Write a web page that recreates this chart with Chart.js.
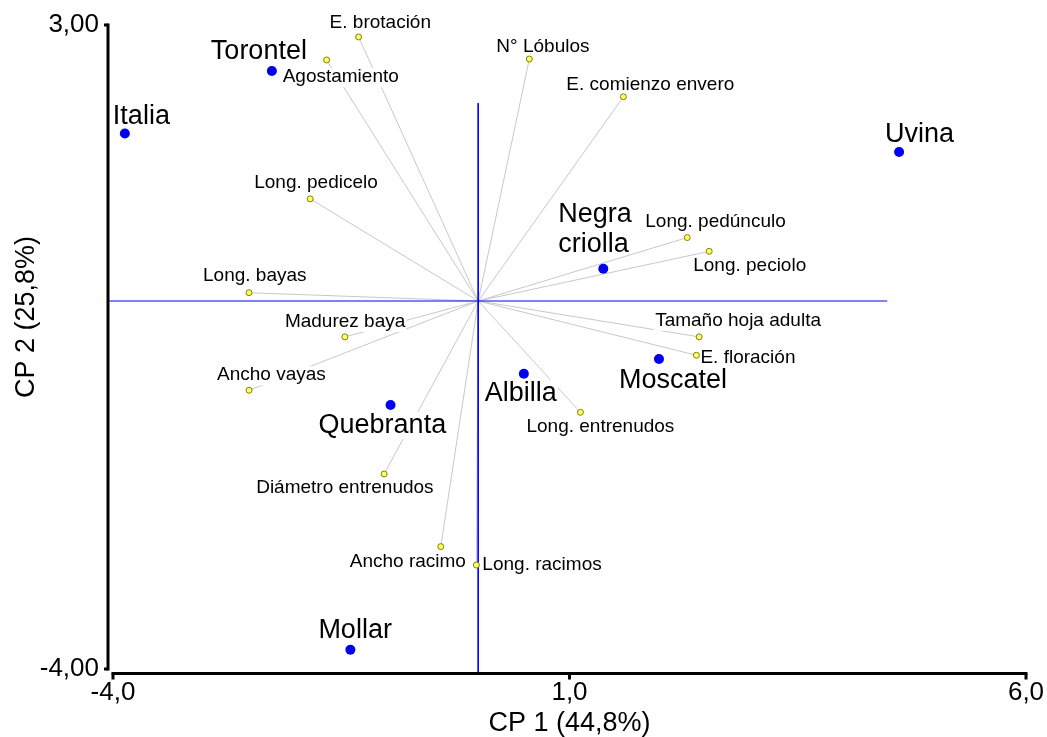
<!DOCTYPE html>
<html>
<head>
<meta charset="utf-8">
<script src="https://cdn.jsdelivr.net/npm/chart.js@4/dist/chart.umd.min.js"></script>
<style>
  html, body { margin: 0; padding: 0; background: #fff; }
  canvas { display: block; }
</style>
</head>
<body>
<canvas id="pca" width="1047" height="737"></canvas>
<script>
// cultivares (puntajes CP1 / CP2)
var varietyNames = ['Italia', 'Torontel', 'Uvina', ['Negra', 'criolla'], 'Moscatel', 'Albilla', 'Quebranta', 'Mollar'];
var varietyCP1 = [-3.87, -2.26, 4.61, 1.37, 1.98, 0.50, -0.96, -1.40];
var varietyCP2 = [1.82, 2.50, 1.62, 0.35, -0.63, -0.79, -1.13, -3.79];

// variables (vectores)
var variableNames = ['E. brotación', 'Agostamiento', 'N° Lóbulos', 'E. comienzo envero', 'Long. pedicelo',
  'Long. pedúnculo', 'Long. peciolo', 'Long. bayas', 'Madurez baya', 'Ancho vayas', 'Tamaño hoja adulta',
  'E. floración', 'Long. entrenudos', 'Diámetro entrenudos', 'Ancho racimo', 'Long. racimos'];
var variableCP1 = [-1.31, -1.66, 0.56, 1.59, -1.84, 2.29, 2.53, -2.51, -1.46, -2.51, 2.42, 2.39, 1.12, -1.03, -0.41, -0.02];
var variableCP2 = [2.87, 2.62, 2.63, 2.22, 1.11, 0.69, 0.54, 0.09, -0.39, -0.97, -0.39, -0.59, -1.21, -1.88, -2.67, -2.87];

// ejes de referencia en el origen
var refH = [-4.05, 4.48];   // extension de la linea y = 0
var refV = [2.15, -4.04];   // extension de la linea x = 0

var xTicks = [-4, 1, 6];
var yTicks = [-4, 3];

// label placement (px offset of text start / baseline from the point)
var varietyLabelPos = [[-12, -10], [-61, -12], [-14, -10], [-45, -47], [-40, 29], [-39, 27], [-72, 28], [-32, -12]];
var variableLabelPos = [[-29, -9], [-44, 22], [-33, -7], [-57, -7], [-56, -11], [-42, -11], [-16, 20], [-46, -12],
  [-60, -10], [-32, -10], [-44, -11], [4, 8], [-54, 20], [-128, 19], [-91, 20], [6, 5]];

var FONT = "'Liberation Sans', Arial, sans-serif";

function pts(xs, ys) {
  return xs.map(function (x, i) { return {x: x, y: ys[i]}; });
}

var datasets = [];
variableCP1.forEach(function (x, i) {
  datasets.push({
    type: 'line',
    data: [{x: 0, y: 0}, {x: x, y: variableCP2[i]}],
    borderColor: '#c8c8c8',
    borderWidth: 1,
    pointRadius: 0,
    order: 4
  });
});
datasets.push({
  type: 'line', data: [{x: refH[0], y: 0}, {x: refH[1], y: 0}],
  borderColor: '#0000ff', borderWidth: 1, pointRadius: 0, clip: false, order: 3
});
datasets.push({
  type: 'line', data: [{x: 0, y: refV[0]}, {x: 0, y: refV[1]}],
  borderColor: '#0000ff', borderWidth: 1, pointRadius: 0, clip: false, order: 3
});
datasets.push({
  id: 'vars',
  data: pts(variableCP1, variableCP2),
  backgroundColor: '#ffff66',
  borderColor: '#808000',
  borderWidth: 1,
  pointRadius: 3,
  order: 2
});
datasets.push({
  id: 'cult',
  data: pts(varietyCP1, varietyCP2),
  backgroundColor: '#0000ee',
  borderColor: '#0000ee',
  borderWidth: 0,
  pointRadius: 5,
  order: 1
});

function drawLabel(ctx, text, x, y) {
  var m = ctx.measureText(text);
  ctx.fillStyle = '#fff';
  ctx.fillRect(x - 1, y - m.actualBoundingBoxAscent - 1, m.width + 2, m.actualBoundingBoxAscent + m.actualBoundingBoxDescent + 2);
  ctx.fillStyle = '#000';
  ctx.fillText(text, x, y);
}

function noPad(s) {
  s.paddingLeft = 0; s.paddingRight = 0; s.paddingTop = 0; s.paddingBottom = 0;
}

var pcaPlugin = {
  id: 'pcaExtras',
  beforeDatasetDraw: function (chart, args) {
    if (chart.data.datasets[args.index].id !== 'vars') return;
    var ctx = chart.ctx, xs = chart.scales.x, ys = chart.scales.y;
    ctx.save();
    ctx.textAlign = 'left';
    ctx.textBaseline = 'alphabetic';
    ctx.font = '19px ' + FONT;
    variableNames.forEach(function (name, i) {
      var px = xs.getPixelForValue(variableCP1[i]), py = ys.getPixelForValue(variableCP2[i]);
      drawLabel(ctx, name, px + variableLabelPos[i][0], py + variableLabelPos[i][1]);
    });
    ctx.font = '27px ' + FONT;
    varietyNames.forEach(function (name, i) {
      var px = xs.getPixelForValue(varietyCP1[i]), py = ys.getPixelForValue(varietyCP2[i]);
      var lines = Array.isArray(name) ? name : [name];
      lines.forEach(function (t, k) {
        drawLabel(ctx, t, px + varietyLabelPos[i][0], py + varietyLabelPos[i][1] + k * 30);
      });
    });
    ctx.restore();
  },
  afterDraw: function (chart) {
    var ctx = chart.ctx, xs = chart.scales.x, ys = chart.scales.y, area = chart.chartArea;
    ctx.save();
    ctx.strokeStyle = '#000';
    ctx.lineWidth = 3;
    ctx.lineCap = 'butt';
    // eje vertical
    var ax = area.left - 5;
    var yTop = ys.getPixelForValue(yTicks[yTicks.length - 1]);
    var yBot = ys.getPixelForValue(yTicks[0]);
    ctx.beginPath();
    ctx.moveTo(ax, yTop - 1.5);
    ctx.lineTo(ax, yBot + 1.5);
    ctx.stroke();
    yTicks.forEach(function (v) {
      var y = ys.getPixelForValue(v);
      ctx.beginPath();
      ctx.moveTo(ax - 4, y);
      ctx.lineTo(ax, y);
      ctx.stroke();
    });
    // eje horizontal
    var ay = area.bottom + 4.5;
    var xL = xs.getPixelForValue(xTicks[0]);
    var xR = xs.getPixelForValue(xTicks[xTicks.length - 1]);
    ctx.beginPath();
    ctx.moveTo(xL - 1.5, ay);
    ctx.lineTo(xR + 1.5, ay);
    ctx.stroke();
    xTicks.forEach(function (v) {
      var x = xs.getPixelForValue(v);
      ctx.beginPath();
      ctx.moveTo(x, ay);
      ctx.lineTo(x, ay + 6);
      ctx.stroke();
    });
    // titulo eje Y
    ctx.translate(34, 317);
    ctx.rotate(-Math.PI / 2);
    ctx.font = '27px ' + FONT;
    ctx.fillStyle = '#000';
    ctx.textAlign = 'center';
    ctx.textBaseline = 'alphabetic';
    ctx.fillText('CP 2 (25,8%)', 0, 0);
    ctx.restore();
  }
};

new Chart(document.getElementById('pca'), {
  type: 'scatter',
  data: {datasets: datasets},
  plugins: [pcaPlugin],
  options: {
    responsive: false,
    animation: false,
    events: [],
    layout: {padding: {left: 0, right: 21, top: 25, bottom: 0}},
    plugins: {legend: {display: false}, tooltip: {enabled: false}},
    scales: {
      x: {
        type: 'linear',
        min: -4, max: 6,
        afterFit: function (s) { s.height = 68; noPad(s); },
        afterBuildTicks: function (s) { s.ticks = xTicks.map(function (v) { return {value: v}; }); },
        grid: {display: false, drawTicks: false},
        border: {display: false},
        ticks: {
          padding: 8,
          color: '#000',
          font: {family: FONT, size: 26},
          maxRotation: 0,
          callback: function (v) { return v.toFixed(1).replace('.', ','); }
        },
        title: {
          display: true,
          text: 'CP 1 (44,8%)',
          color: '#000',
          font: {family: FONT, size: 27, lineHeight: 1},
          padding: {top: 0, bottom: 0}
        }
      },
      y: {
        type: 'linear',
        min: -4, max: 3,
        afterFit: function (s) { s.width = 113; noPad(s); },
        afterBuildTicks: function (s) { s.ticks = yTicks.map(function (v) { return {value: v}; }); },
        grid: {display: false, drawTicks: false},
        border: {display: false},
        ticks: {
          padding: 14,
          color: '#000',
          font: {family: FONT, size: 26},
          callback: function (v) { return v.toFixed(2).replace('.', ','); }
        }
      }
    }
  }
});
</script>
</body>
</html>
